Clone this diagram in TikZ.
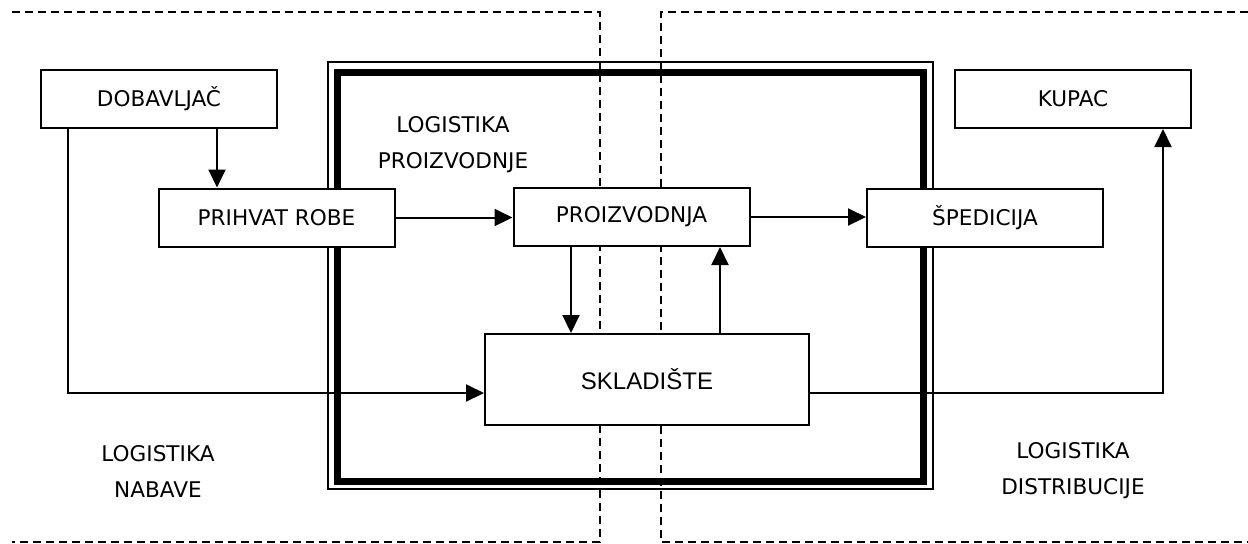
\documentclass[tikz,border=0pt]{standalone}
\usepackage{fontspec}
\setmainfont{DejaVu Sans}
\newfontfamily\sklfont{Liberation Sans}
\usetikzlibrary{arrows.meta}

\begin{document}
\begin{tikzpicture}[x=0.5pt, y=-0.5pt,
      box/.style = {draw, fill=white, line width=1pt, inner sep=0pt,
                    minimum width=118pt, minimum height=29pt,
                    font=\fontsize{10.8}{18}\selectfont},
      lbl/.style = {align=center, font=\fontsize{10.8}{18}\selectfont},
      arr/.style = {line width=1pt, -{Triangle[length=9pt, width=8.5pt]}},
     zone/.style = {dash pattern=on 4pt off 2.5pt, line width=0.75pt}
      ]
    \useasboundingbox (0,0) rectangle (1248,543);
    \draw[zone] (12,12) -- (600,12) -- (600,542) -- (12,542);
    \draw[zone] (1248,12) -- (661,12) -- (661,542) -- (1248,542);
    \draw[line width=0.75pt] (328,62) rectangle (933,489);
    \draw[line width=3.5pt] (337.5,72.5) rectangle (923.5,481);

    \node (dob) [box] at (159,99) {DOBAVLJAČ};
    \node (pri) [box] at (276.5,217.5) {PRIHVAT ROBE};
    \node (pro) [box] at (631.5,217) {PROIZVODNJA};
    \node (spe) [box] at (985,217.5) {ŠPEDICIJA};
    \node (kup) [box] at (1073,99) {KUPAC};
    \node (skl) [box, minimum width=162pt, minimum height=45.5pt,
                font=\sklfont\fontsize{12}{14}\selectfont] at (647,379.5) {SKLADIŠTE};

    \node (lpro) [lbl] at (453,145) {LOGISTIKA\\PROIZVODNJE};
    \node (lnab) [lbl] at (158,471) {LOGISTIKA\\NABAVE};
    \node (ldis) [lbl] at (1073,471) {LOGISTIKA\\DISTRIBUCIJE};

    \draw[arr] ([xshift=29pt]dob.south) -- ([xshift=29pt]dob.south |- pri.north);
    \draw[arr] ([xshift=-45.5pt]dob.south) |- ([yshift=-6.75pt]skl.west);
    \draw[arr] (pri.east) -- (pri.east -| pro.west);
    \draw[arr] (pro.east) -- (pro.east -| spe.west);
    \draw[arr] ([xshift=-30.25pt]pro.south) -- ([xshift=-30.25pt]pro.south |- skl.north);
    \draw[arr] ([xshift=44.25pt]pro.south |- skl.north) -- ([xshift=44.25pt]pro.south);
    \draw[arr] ([yshift=-6.75pt]skl.east) -| ([xshift=45pt]kup.south);
\end{tikzpicture}
\end{document}
